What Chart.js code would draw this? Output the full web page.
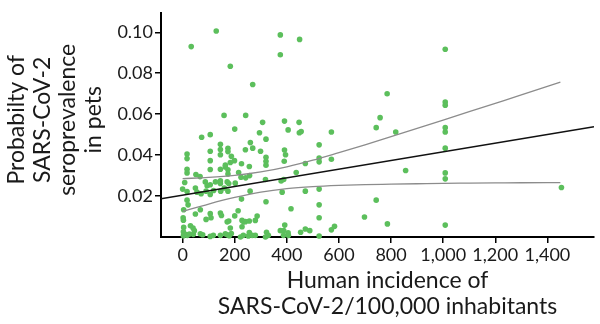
<!DOCTYPE html>
<html>
<head>
<meta charset="utf-8">
<script src="https://cdn.jsdelivr.net/npm/chart.js@4/dist/chart.umd.min.js"></script>
<style>
  html, body { margin: 0; padding: 0; background: #fff; }
  #wrap { width: 600px; height: 324px; position: relative; }
</style>
</head>
<body>
<div id="wrap"><canvas id="c"></canvas></div>
<script>
// Human incidence of SARS-CoV-2 per 100,000 inhabitants, one entry per sampled area
const incidence = [
  33, 17, 17, 17, 17, 51, 8, 0, 17, 17, 21, 4, 2, 3, 30, 40, 4, 45, 3, 3, 10, 18, 26, 41,
  73, 106, 129, 106, 106, 106, 67, 87, 94, 90, 119, 106, 49, 55, 71, 106, 68, 49, 106, 109, 90, 68, 77, 106, 118,
  159, 183, 145, 145, 145, 174, 174, 164, 145, 187, 183, 164, 174, 174, 145, 145, 126, 171, 177, 160, 174, 146,
  145, 149, 177, 171, 183, 145, 164, 172, 179, 187,
  200, 242, 269, 295, 260, 241, 269, 199, 226, 256, 215, 224, 242, 257, 202, 259, 226, 213, 200, 228, 234, 241,
  256, 279, 286, 228, 222, 233, 252, 256, 267, 279,
  307, 375, 375, 449, 391, 405, 447, 448, 320, 299, 320, 320, 320, 391, 395, 390, 436, 318, 378, 388, 382, 320,
  416, 392, 375, 388, 405, 322, 318, 329, 387, 406,
  455, 571, 524, 524, 524, 571, 471, 471, 524, 524, 524, 583, 571, 471, 488, 453, 524,
  743, 818, 758, 785, 856, 743, 698, 786, 1008, 1008, 1008, 1008, 1008, 1008, 1008, 1008, 1008, 1454
];
// Estimated probability of seroprevalence in pets for the same areas
const seroprevalence = [
  0.0930, 0.0405, 0.0383, 0.0331, 0.0313, 0.0305, 0.0266, 0.0234, 0.0222, 0.0180, 0.0157, 0.0133, 0.0094, 0.0082,
  0.0055, 0.0044, 0.0047, 0.0031, 0.0025, 0.0006, 0.0013, 0.0008, 0.0015, 0.0013,
  0.0487, 0.0500, 0.1006, 0.0419, 0.0373, 0.0330, 0.0295, 0.0269, 0.0250, 0.0224, 0.0227, 0.0255, 0.0239, 0.0219,
  0.0211, 0.0208, 0.0133, 0.0112, 0.0114, 0.0094, 0.0086, 0.0016, 0.0011, 0.0003, 0.0008,
  0.0594, 0.0834, 0.0453, 0.0427, 0.0402, 0.0433, 0.0417, 0.0342, 0.0331, 0.0394, 0.0364, 0.0351, 0.0328, 0.0308,
  0.0274, 0.0261, 0.0269, 0.0269, 0.0261, 0.0239, 0.0224, 0.0224, 0.0117, 0.0105, 0.0078, 0.0074, 0.0044, 0.0008,
  0.0016, 0.0011, 0.0006, 0.0017,
  0.0527, 0.0594, 0.0745, 0.0509, 0.0461, 0.0426, 0.0434, 0.0373, 0.0358, 0.0344, 0.0315, 0.0292, 0.0289, 0.0300,
  0.0263, 0.0224, 0.0185, 0.0128, 0.0103, 0.0081, 0.0074, 0.0075, 0.0078, 0.0081, 0.0102, 0.0050, 0.0000, 0.0008,
  0.0005, 0.0022, 0.0008, 0.0008,
  0.0560, 0.0987, 0.0890, 0.0965, 0.0566, 0.0523, 0.0560, 0.0509, 0.0478, 0.0419, 0.0389, 0.0370, 0.0351, 0.0425,
  0.0402, 0.0370, 0.0315, 0.0281, 0.0274, 0.0281, 0.0219, 0.0172, 0.0138, 0.0058, 0.0031, 0.0031, 0.0021, 0.0023,
  0.0000, 0.0008, 0.0008, 0.0008,
  0.0515, 0.0513, 0.0450, 0.0386, 0.0367, 0.0380, 0.0359, 0.0224, 0.0234, 0.0157, 0.0094, 0.0052, 0.0035, 0.0039,
  0.0031, 0.0023, 0.0005,
  0.0534, 0.0513, 0.0583, 0.0700, 0.0325, 0.0180, 0.0098, 0.0064, 0.0917, 0.0659, 0.0644, 0.0534, 0.0513, 0.0434,
  0.0313, 0.0284, 0.0058, 0.0242
];

// Fitted trend across the full axis range
const fitX = [-83, 1579];
const fitY = [0.0187, 0.0538];

// Confidence band of the fit over the observed incidence range
const ciX     = [0, 100, 200, 300, 400, 500, 600, 700, 800, 900, 1000, 1100, 1200, 1300, 1450];
const ciUpper = [0.0285, 0.0291, 0.0301, 0.0318, 0.0343, 0.0375, 0.0412, 0.0450, 0.0490, 0.0530, 0.0571, 0.0612, 0.0653, 0.0694, 0.0756];
const ciLower = [0.0125, 0.0161, 0.0193, 0.0219, 0.0236, 0.0246, 0.0252, 0.0256, 0.0258, 0.0260, 0.0262, 0.0263, 0.0264, 0.0265, 0.0266];

const xTicks = [0, 200, 400, 600, 800, 1000, 1200, 1400];
const yTicks = [0.02, 0.04, 0.06, 0.08, 0.10];

const xTitle = ['Human incidence of', 'SARS-CoV-2/100,000 inhabitants'];
const yTitle = ['Probabilty of', 'SARS-CoV-2', 'seroprevalence', 'in pets'];

const FONT = 'Lato, "Open Sans", sans-serif';
const INK = '#1a1a1a';

const toPoints = (xs, ys) => xs.map((x, i) => ({ x, y: ys[i] }));

// Multi-line axis titles drawn next to the scales
const axisTitles = {
  id: 'axisTitles',
  afterDraw(chart) {
    const { ctx, chartArea } = chart;
    ctx.save();
    ctx.fillStyle = INK;
    ctx.font = '23px ' + FONT;
    ctx.textAlign = 'center';
    ctx.textBaseline = 'middle';
    const cx = (chartArea.left + chartArea.right) / 2 + 10;
    xTitle.forEach((line, i) => ctx.fillText(line, cx, chartArea.bottom + 44 + i * 25.5));
    const cy = chartArea.top + 107;
    yTitle.forEach((line, i) => {
      ctx.save();
      ctx.translate(17 + i * 25.5, cy);
      ctx.rotate(-Math.PI / 2);
      ctx.fillText(line, 0, 0);
      ctx.restore();
    });
    ctx.restore();
  }
};

new Chart(document.getElementById('c'), {
  data: {
    datasets: [
      {
        type: 'scatter',
        label: 'Areas',
        data: toPoints(incidence, seroprevalence),
        backgroundColor: '#5cbf5c',
        borderWidth: 0,
        pointRadius: 2.8,
        clip: false,
        order: 3
      },
      {
        type: 'line',
        label: 'Upper bound',
        data: toPoints(ciX, ciUpper),
        borderColor: '#8c8c8c',
        borderWidth: 1.3,
        pointRadius: 0,
        fill: false,
        cubicInterpolationMode: 'monotone',
        order: 2
      },
      {
        type: 'line',
        label: 'Lower bound',
        data: toPoints(ciX, ciLower),
        borderColor: '#8c8c8c',
        borderWidth: 1.3,
        pointRadius: 0,
        fill: false,
        cubicInterpolationMode: 'monotone',
        order: 2
      },
      {
        type: 'line',
        label: 'Fit',
        data: toPoints(fitX, fitY),
        borderColor: '#111',
        borderWidth: 1.5,
        pointRadius: 0,
        fill: false,
        order: 1
      }
    ]
  },
  options: {
    responsive: true,
    maintainAspectRatio: false,
    animation: false,
    devicePixelRatio: 1,
    layout: { padding: { left: 0, top: 3, right: 6, bottom: 0 } },
    plugins: { legend: { display: false }, tooltip: { enabled: false } },
    scales: {
      x: {
        type: 'linear',
        min: -83,
        max: 1579,
        afterBuildTicks: (s) => { s.ticks = xTicks.map(v => ({ value: v })); },
        afterFit: (s) => { s.height = 87; },
        border: { display: true, color: '#000', width: 2 },
        grid: { display: true, drawOnChartArea: false, drawTicks: true, tickLength: 6, color: '#000', lineWidth: 1.5 },
        ticks: {
          color: INK,
          font: { family: FONT, size: 18 },
          padding: 1,
          maxRotation: 0,
          callback: (v) => v.toLocaleString('en-US')
        }
      },
      y: {
        type: 'linear',
        min: 0,
        max: 0.1095,
        afterBuildTicks: (s) => { s.ticks = yTicks.map(v => ({ value: v })); },
        afterFit: (s) => { s.width = 161; },
        border: { display: true, color: '#000', width: 2 },
        grid: { display: true, drawOnChartArea: false, drawTicks: true, tickLength: 6, color: '#000', lineWidth: 1.5 },
        ticks: {
          color: INK,
          font: { family: FONT, size: 18 },
          padding: 2,
          callback: (v) => v.toFixed(2)
        }
      }
    }
  },
  plugins: [axisTitles]
});
</script>
</body>
</html>
